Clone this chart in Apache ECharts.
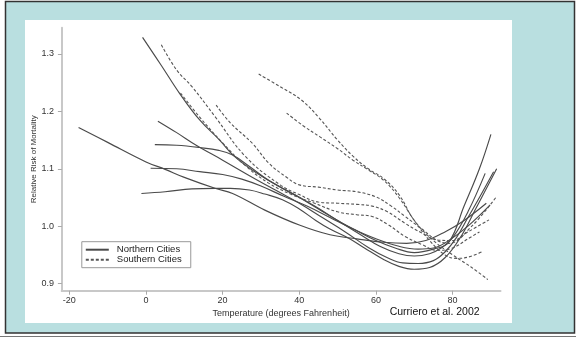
<!DOCTYPE html>
<html>
<head>
<meta charset="utf-8">
<script src="https://cdn.jsdelivr.net/npm/echarts@6/dist/echarts.min.js"></script>
<style>
html,body{margin:0;padding:0;background:#fff;}
#c{width:576px;height:339px;}
</style>
</head>
<body>
<div id="c"></div>
<script>
// ---- tick labels ----
const xTicks = [-20, 0, 20, 40, 60, 80];
const yTicks = [0.9, 1.0, 1.1, 1.2, 1.3];

// ---- Northern cities (solid) : [temperature, relative risk] ----
const north1 = [[-17.6,1.172],[-10,1.146],[0,1.112],[5,1.099],[10,1.085],[18,1.066],[22.6,1.057],[31,1.028],[40,1.002],[48,0.985],[55,0.978],[62,0.972],[68,0.970],[73,0.975],[78,0.990],[83,1.010],[88.8,1.040]];
const north2 = [[-0.9,1.329],[4,1.280],[8.8,1.231],[14,1.185],[19.2,1.150],[23,1.122],[27.7,1.098],[34.7,1.069],[40,1.050],[45,1.030],[50,1.010],[55,0.992],[60,0.975],[65,0.962],[70,0.954],[75,0.960],[79,0.972],[83,1.035],[87,1.100],[90,1.160]];
const north3 = [[3.1,1.183],[8,1.163],[13.1,1.141],[20,1.115],[27,1.088],[34,1.062],[40,1.040],[46,1.015],[52,0.990],[58,0.963],[63,0.945],[67,0.936],[71,0.935],[75,0.940],[78,0.955],[81,0.980],[84,1.015],[87,1.050],[90.7,1.095]];
const north4 = [[2.3,1.142],[8,1.141],[14,1.137],[19,1.132],[22.6,1.124],[27,1.104],[32,1.080],[38,1.058],[44,1.035],[50,1.010],[56,0.985],[61,0.965],[66,0.952],[70,0.948],[74,0.952],[77,0.962],[80,0.980],[84,1.025],[88.5,1.092]];
const north5 = [[1.2,1.101],[8,1.100],[14,1.095],[20,1.090],[25,1.082],[30,1.070],[36,1.052],[42,1.035],[48,1.015],[54,0.995],[60,0.978],[66,0.965],[71,0.960],[75,0.962],[79,0.975],[84,1.000],[89.8,1.037]];
const north6 = [[-1.2,1.057],[5,1.060],[12,1.065],[18,1.066],[22,1.066],[27,1.063],[31,1.056],[35.6,1.046],[40,1.030],[44.3,1.010],[48,0.995],[52.9,0.979],[57,0.962],[62,0.942],[66,0.930],[70,0.925],[74,0.928],[78,0.945],[82,0.980],[86,1.030],[91.5,1.100]];

// ---- Southern cities (dashed) ----
const south1 = [[4,1.316],[8,1.272],[12,1.243],[18,1.191],[26,1.121],[35,1.072],[40,1.055],[45,1.042],[50,1.040],[55,1.038],[59,1.035],[63,1.025],[67.6,1.005],[72,0.988],[76,0.976],[80,0.975],[84,0.990],[89.5,1.011]];
const south2 = [[18.3,1.211],[22,1.180],[27.8,1.144],[32,1.110],[36.5,1.086],[40,1.072],[45,1.068],[50,1.063],[55,1.060],[60,1.051],[64,1.035],[67.6,1.017],[72,0.995],[76,0.975],[79,0.970],[85,1.000],[91.5,1.052]];
const south3 = [[29.4,1.265],[35,1.243],[40.5,1.220],[45,1.190],[50,1.150],[54,1.122],[58,1.100],[62,1.083],[66,1.055],[70,1.010],[75,0.975],[80,0.950],[85,0.928],[89.2,0.907]];
const south4 = [[36.7,1.197],[41,1.175],[45.3,1.156],[50,1.135],[54,1.115],[58,1.098],[62,1.080],[66,1.050],[70,1.010],[74,0.975],[78,0.950],[81,0.944],[84,0.946],[87.6,0.955]];
const south5 = [[9,1.232],[14,1.190],[20,1.145],[26,1.105],[32,1.075],[38,1.055],[44,1.040],[50,1.025],[55,1.020],[59,1.017],[63.3,1.002],[67.6,0.982],[72,0.968],[76,0.958],[80,0.962],[84,0.978],[87,0.990]];

const northSeries = [north1, north2, north3, north4, north5, north6];
const southSeries = [south1, south2, south3, south4, south5];

const FONT = 'Liberation Sans, Arial, sans-serif';
const chart = echarts.init(document.getElementById('c'), null, {renderer: 'canvas'});

const series = [];
northSeries.forEach(d => series.push({
  name: 'Northern Cities', type: 'line', data: d, smooth: 0.4, showSymbol: false, symbol: 'none',
  xAxisIndex: 0, yAxisIndex: 0,
  lineStyle: {color: '#4a4a4a', width: 1.15, type: 'solid'}, itemStyle: {color: '#4a4a4a'}, z: 3
}));
southSeries.forEach(d => series.push({
  name: 'Southern Cities', type: 'line', data: d, smooth: 0.4, showSymbol: false, symbol: 'none',
  xAxisIndex: 0, yAxisIndex: 0,
  lineStyle: {color: '#555', width: 1.1, type: [3, 2]}, itemStyle: {color: '#555'}, z: 3
}));

const option = {
  animation: false,
  backgroundColor: '#ffffff',
  graphic: {
    elements: [
      {type: 'rect', z: -100, silent: true, shape: {x: 5.5, y: 1.5, width: 569, height: 331.5},
       style: {fill: '#b9dfe0', stroke: '#333', lineWidth: 1.5}},
      {type: 'rect', z: -99, silent: true, shape: {x: 25, y: 20, width: 487, height: 303},
       style: {fill: '#ffffff'}},
      {type: 'line', z: -99, silent: true, shape: {x1: 0, y1: 336.5, x2: 576, y2: 336.5},
       style: {stroke: '#777', lineWidth: 1}},
      {type: 'text', z: 10, silent: true, x: 389.7, y: 312.5,
       style: {text: 'Curriero et al. 2002', fontSize: 10.5, fontFamily: FONT, fill: '#111', verticalAlign: 'middle', align: 'left'}}
    ]
  },
  legend: {
    data: ['Northern Cities', 'Southern Cities'],
    orient: 'vertical', left: 81.8, top: 241.7,
    itemWidth: 23, itemHeight: 7.7, itemGap: 0,
    padding: [3, 9, 3, 3],
    borderColor: '#999', borderWidth: 1, backgroundColor: '#fff',
    itemStyle: {color: 'rgba(0,0,0,0)', borderColor: 'rgba(0,0,0,0)', borderWidth: 0, opacity: 0},
    textStyle: {fontSize: 9.5, fontFamily: FONT, color: '#222', lineHeight: 8, padding: [0, 0, 0, 3]}
  },
  grid: [
    {left: 61.7, right: 75.5, top: 27.7, bottom: 48.3, outerBoundsMode: 'none', containLabel: false},
    {left: 69.3, right: 123.4, top: 54, bottom: 55.4, outerBoundsMode: 'none', containLabel: false}
  ],
  xAxis: [
    {gridIndex: 0, type: 'value', min: -22, max: 92.5,
     axisLine: {show: true, onZero: false, lineStyle: {color: '#c8c8c8', width: 2}},
     axisTick: {show: false}, axisLabel: {show: false}, splitLine: {show: false},
     name: 'Temperature (degrees Fahrenheit)', nameLocation: 'middle', nameGap: 18,
     nameTextStyle: {fontSize: 9, fontFamily: FONT, color: '#333'}},
    {gridIndex: 1, type: 'value', min: xTicks[0], max: xTicks[xTicks.length - 1], interval: 20, offset: 7.1,
     axisLine: {show: false, onZero: false},
     axisTick: {show: true, length: 4, lineStyle: {color: '#aaa', width: 1}},
     axisLabel: {show: true, margin: 5, fontSize: 9, fontFamily: FONT, color: '#333'},
     splitLine: {show: false}}
  ],
  yAxis: [
    {gridIndex: 0, type: 'value', min: 0.8876, max: 1.3458,
     axisLine: {show: true, onZero: false, lineStyle: {color: '#c8c8c8', width: 2}},
     axisTick: {show: false}, axisLabel: {show: false}, splitLine: {show: false},
     name: 'Relative Risk of Mortality', nameLocation: 'middle', nameGap: 24, nameRotate: 90,
     nameTextStyle: {fontSize: 8, fontFamily: FONT, color: '#333'}},
    {gridIndex: 1, type: 'value', min: yTicks[0], max: yTicks[yTicks.length - 1], interval: 0.1, offset: 7.4,
     axisLine: {show: false, onZero: false},
     axisTick: {show: true, length: 4, lineStyle: {color: '#aaa', width: 1}},
     axisLabel: {show: true, margin: 8, fontSize: 9, fontFamily: FONT, color: '#333',
                 formatter: v => Number(v).toFixed(1)},
     splitLine: {show: false}}
  ],
  series: series
};
chart.setOption(option);
</script>
</body>
</html>
